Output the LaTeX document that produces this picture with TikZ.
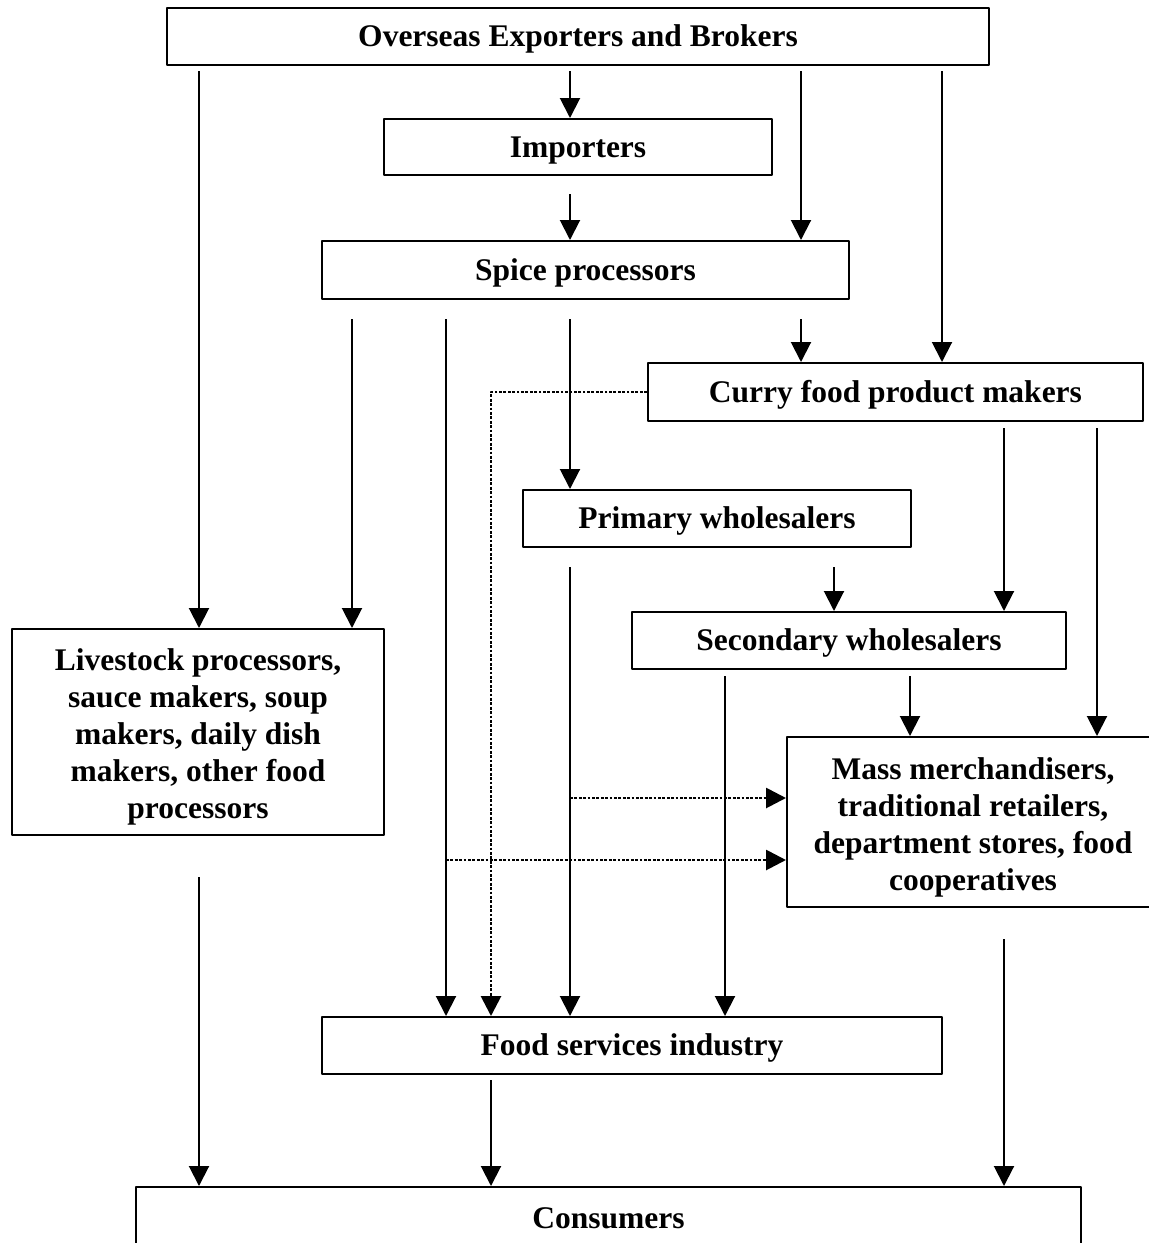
\documentclass[tikz,border=0pt]{standalone}
\usepackage{fontspec}
\setmainfont{Liberation Serif}
\usetikzlibrary{arrows.meta}
\newcommand\firststrut{\rule{0pt}{32pt}}
\tikzset{
  every picture/.style={line join=round},
  box/.style={draw, line width=2pt, inner sep=0pt, align=center, minimum height=57pt,
    font=\bfseries\fontsize{31.5}{37}\selectfont,
    execute at begin node={\rule[-7pt]{0pt}{34pt}}},
  tallbox/.style={box, minimum width=372pt, execute at begin node={}},
  flow/.style={line width=2pt, -{Triangle[length=20pt,width=20pt]}},
  link/.style={flow, line width=2.8pt, dash pattern=on 2.8pt off 1.6pt},
}
\begin{document}
\begin{tikzpicture}[x=1pt, y=-1pt]
  \useasboundingbox (0,0) rectangle (1149,1243);
  % columns and rows the flows run along
  \foreach \n/\x in {c1/199, c2/352, c3/446, c4/491, c5/570, c6/725,
                     c7/801, c8/834, c9/910, c10/942, c11/1004, c12/1097}
    \coordinate (\n) at (\x,0);
  \coordinate (r1) at (0,798);
  \coordinate (r2) at (0,860);
  % Boxes
  \node[box, minimum width=822pt] (top) at (578,36.5) {Overseas Exporters and Brokers};
  \node[box, minimum width=388pt, minimum height=56pt] (imp) at (578,147) {Importers};
  \node[box, minimum width=527pt, minimum height=58pt] (spice) at (585.5,270) {Spice processors};
  \node[box, minimum width=495pt, minimum height=58pt] (curry) at (895.5,392) {Curry food product makers};
  \node[box, minimum width=388pt] (prim) at (717,518.5) {Primary wholesalers};
  \node[box, minimum width=434pt] (sec) at (849,640.5) {Secondary wholesalers};
  \node[tallbox, minimum height=206pt] (live) at (198,732)
    {\firststrut Livestock processors,\\ sauce makers, soup\\ makers, daily dish\\ makers, other food\\ processors};
  \node[tallbox, minimum height=170pt] (mass) at (973,822)
    {\firststrut Mass merchandisers,\\ traditional retailers,\\ department stores, food\\ cooperatives};
  \node[box, minimum width=620pt] (food) at (632,1045.5) {Food services industry};
  \node[box, minimum width=945pt, minimum height=62pt] (cons) at (608.5,1218) {Consumers};
  % From the exporters
  \draw[flow] ([yshift=-5pt]top.south -| c1) -- (c1 |- live.north);
  \draw[flow] ([yshift=-5pt]top.south -| c5) -- (c5 |- imp.north);
  \draw[flow] ([yshift=-5pt]top.south -| c7) -- (c7 |- spice.north);
  \draw[flow] ([yshift=-5pt]top.south -| c10) -- (c10 |- curry.north);
  \draw[flow] ([yshift=-18pt]imp.south -| c5) -- (c5 |- spice.north);
  % From the spice processors
  \draw[flow] ([yshift=-19pt]spice.south -| c2) -- (c2 |- live.north);
  \draw[flow] ([yshift=-19pt]spice.south -| c3) -- (c3 |- food.north);
  \draw[flow] ([yshift=-19pt]spice.south -| c5) -- (c5 |- prim.north);
  \draw[flow] ([yshift=-19pt]spice.south -| c7) -- (c7 |- curry.north);
  % From the curry makers
  \draw[flow] ([yshift=-6pt]curry.south -| c11) -- (c11 |- sec.north);
  \draw[flow] ([yshift=-6pt]curry.south -| c12) -- (c12 |- mass.north);
  \draw[link] (curry.west) -| (c4 |- food.north);
  % Wholesalers
  \draw[flow] ([yshift=-19pt]prim.south -| c5) -- (c5 |- food.north);
  \draw[flow] ([yshift=-19pt]prim.south -| c8) -- (c8 |- sec.north);
  \draw[flow] ([yshift=-6pt]sec.south -| c6) -- (c6 |- food.north);
  \draw[flow] ([yshift=-6pt]sec.south -| c9) -- (c9 |- mass.north);
  \draw[link] (c5 |- r1) -- (mass.west |- r1);
  \draw[link] (c3 |- r2) -- (mass.west |- r2);
  % To the consumers
  \draw[flow] ([yshift=-41pt]live.south -| c1) -- (c1 |- cons.north);
  \draw[flow] ([yshift=-5pt]food.south -| c4) -- (c4 |- cons.north);
  \draw[flow] ([yshift=-31pt]mass.south -| c11) -- (c11 |- cons.north);
\end{tikzpicture}
\end{document}
